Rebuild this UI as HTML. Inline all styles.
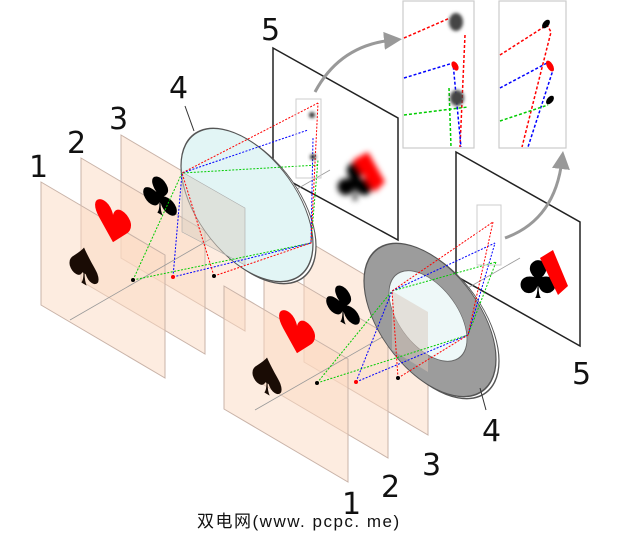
<!DOCTYPE html>
<html><head><meta charset="utf-8"><style>
html,body{margin:0;padding:0;background:#fff;}
svg{display:block;}
text{font-family:"DejaVu Sans","Liberation Sans",sans-serif;}
</style></head><body>
<svg width="640" height="542" viewBox="0 0 640 542" xmlns="http://www.w3.org/2000/svg">
<defs>
<filter id="bl" x="-50%" y="-50%" width="200%" height="200%"><feGaussianBlur stdDeviation="3"/></filter>
<filter id="bl2" x="-50%" y="-50%" width="200%" height="200%"><feGaussianBlur stdDeviation="1.5"/></filter>
<marker id="ah" markerWidth="6" markerHeight="6" refX="3" refY="3" orient="auto"><path d="M0,0 L6,3 L0,6z" fill="#999"/></marker>
</defs>

<polygon points="273,48 398,118 398,240 273,172" fill="#fff" stroke="#222" stroke-width="1.5"/>
<polygon points="456,152 580,222 580,346 456,276" fill="#fff" stroke="#222" stroke-width="1.5"/>

<g fill="#fcd9c2" fill-opacity="0.5" stroke="#c9b3a8" stroke-width="1">
<polygon points="121,135 245,208 245,331 121,258"/>
<polygon points="81,158 205,231 205,354 81,281"/>
<polygon points="41,182 165,255 165,378 41,305"/>
</g>
<g fill="#fcd9c2" fill-opacity="0.5" stroke="#c9b3a8" stroke-width="1">
<polygon points="304,239 428,312 428,435 304,362"/>
<polygon points="264,262 388,335 388,458 264,385"/>
<polygon points="224,286 348,359 348,482 224,409"/>
</g>

<g transform="translate(84,284) skewY(30)"><text x="0" y="0" font-size="50" text-anchor="middle" fill="#1a0c05">♠</text></g>
<g transform="translate(113,242) skewY(30)"><text x="0" y="0" font-size="50" text-anchor="middle" fill="#f00">♥</text></g>
<g transform="translate(160,214) skewY(30)"><text x="0" y="0" font-size="50" text-anchor="middle" fill="#000">♣</text></g>
<g transform="translate(267,394) skewY(30)"><text x="0" y="0" font-size="50" text-anchor="middle" fill="#1a0c05">♠</text></g>
<g transform="translate(297,353) skewY(30)"><text x="0" y="0" font-size="50" text-anchor="middle" fill="#f00">♥</text></g>
<g transform="translate(343,323) skewY(30)"><text x="0" y="0" font-size="50" text-anchor="middle" fill="#000">♣</text></g>

<g stroke="#999" stroke-width="0.8" fill="none">
<line x1="70" y1="320" x2="330" y2="170"/>
<line x1="255" y1="410" x2="520" y2="258"/>
</g>

<g transform="matrix(1,0.59,0,1,250,207)"><circle r="66" fill="#fff" stroke="#555" stroke-width="1.2"/></g>
<g transform="matrix(1,0.59,0,1,247,205)"><circle r="66" fill="#e2f5f5" stroke="#555" stroke-width="1.2"/></g>
<polygon points="182,172 245,208 245,265 182,232" fill="#d8d0c4" fill-opacity="0.5" stroke="#aaa" stroke-width="0.6"/>

<g transform="matrix(1,0.59,0,1,433,322)"><circle r="66" fill="#fff" stroke="#555" stroke-width="1.2"/></g>
<g transform="matrix(1,0.59,0,1,430,320)"><circle r="66" fill="#9c9c9c" stroke="#555" stroke-width="1.2"/></g>
<g transform="matrix(1,0.59,0,1,428,316)"><circle r="39" fill="#eef8f8" stroke="#666" stroke-width="0.8"/></g>
<polygon points="392,291 428,312 428,372 392,350" fill="#d8c8bc" fill-opacity="0.5"/>

<g fill="none" stroke-width="1" stroke-dasharray="2,1.5">
<polyline stroke="#0c0" points="133,280 182,173 318,165"/>
<polyline stroke="#0c0" points="133,280 311,243 318,160"/>
<polyline stroke="#00f" points="173,277 182,173 308,130"/>
<polyline stroke="#00f" points="173,277 311,243 313,138"/>
<polyline stroke="#f00" points="214,276 182,173 318,103"/>
<polyline stroke="#f00" points="214,276 311,243 318,103"/>
</g>
<g fill="none" stroke-width="1" stroke-dasharray="2,1.5">
<polyline stroke="#0c0" points="317,383 392,291 496,262"/>
<polyline stroke="#0c0" points="317,383 468,335 496,262"/>
<polyline stroke="#00f" points="356,382 392,291 495,243"/>
<polyline stroke="#00f" points="356,382 468,335 495,243"/>
<polyline stroke="#f00" points="398,378 392,291 493,222"/>
<polyline stroke="#f00" points="398,378 468,335 493,222"/>
</g>
<circle cx="133" cy="280" r="2" fill="#000"/><circle cx="173" cy="277" r="2" fill="#f00"/><circle cx="214" cy="276" r="2" fill="#000"/>
<circle cx="317" cy="383" r="2" fill="#000"/><circle cx="356" cy="382" r="2" fill="#f00"/><circle cx="398" cy="378" r="2" fill="#000"/>

<rect x="296" y="99" width="25" height="79" fill="none" stroke="#ccc"/>
<rect x="477" y="205" width="24" height="60" fill="none" stroke="#ccc"/>

<g filter="url(#bl)">
<text x="355" y="200" font-size="52" text-anchor="middle" fill="#000">♣</text>
<path d="M353,160 L368,152 L385,182 L375,192 Z" fill="#f00"/>
</g>
<circle cx="312" cy="115" r="3" fill="#333" filter="url(#bl2)"/>
<circle cx="313" cy="157" r="3" fill="#333" filter="url(#bl2)"/>
<g>
<text x="538" y="298" font-size="52" text-anchor="middle" fill="#000">♣</text>
<path d="M540,258 L553,250 L568,286 L558,295 Z" fill="#f00"/>
</g>

<rect x="403" y="1" width="71" height="147" fill="#fff" stroke="#ccc" stroke-width="1.2"/>
<rect x="499" y="1" width="67" height="147" fill="#fff" stroke="#ccc" stroke-width="1.2"/>
<g fill="none" stroke-width="1.5" stroke-dasharray="3,2">
<polyline stroke="#f00" points="404,38 450,18"/><polyline stroke="#f00" points="465,35 460,147"/>
<polyline stroke="#00f" points="404,78 453,63 461,147"/>
<polyline stroke="#0c0" points="404,115 468,107"/><polyline stroke="#0c0" points="449,88 451,147"/>
<polyline stroke="#f00" points="500,55 547,25 551,32 522,147"/>
<polyline stroke="#00f" points="500,88 547,63 553,70 528,147"/>
<polyline stroke="#0c0" points="500,121 548,105"/>
</g>
<ellipse cx="456" cy="22" rx="7" ry="9" fill="#444" filter="url(#bl2)"/>
<ellipse cx="457" cy="98" rx="7" ry="8" fill="#444" filter="url(#bl2)"/>
<ellipse cx="455" cy="66" rx="3" ry="5" fill="#f00" transform="rotate(-30 455 66)"/>
<ellipse cx="546" cy="24" rx="3" ry="5" fill="#000" transform="rotate(40 546 24)"/>
<ellipse cx="550" cy="66" rx="3" ry="6" fill="#f00" transform="rotate(-30 550 66)"/>
<ellipse cx="550" cy="100" rx="3" ry="5" fill="#000" transform="rotate(40 550 100)"/>

<path d="M315,92 Q340,45 393,40" fill="none" stroke="#999" stroke-width="3" marker-end="url(#ah)"/>
<path d="M505,238 Q555,220 562,160" fill="none" stroke="#999" stroke-width="3" marker-end="url(#ah)"/>

<line x1="185" y1="106" x2="194" y2="131" stroke="#333" stroke-width="1"/>
<line x1="480" y1="388" x2="486" y2="410" stroke="#333" stroke-width="1"/>

<g font-size="30" fill="#111">
<text x="29" y="177">1</text><text x="67" y="153">2</text><text x="109" y="129">3</text>
<text x="169" y="98">4</text><text x="261" y="40">5</text>
<text x="482" y="441">4</text><text x="572" y="384">5</text>
<text x="422" y="475">3</text><text x="381" y="497">2</text><text x="342" y="514">1</text>
</g>
<text x="197" y="527" font-size="17" letter-spacing="1.5" fill="#111" style='font-family:"Liberation Sans","Noto Sans CJK SC",sans-serif'>双电网(www. pcpc. me)</text>
</svg>
</body></html>
